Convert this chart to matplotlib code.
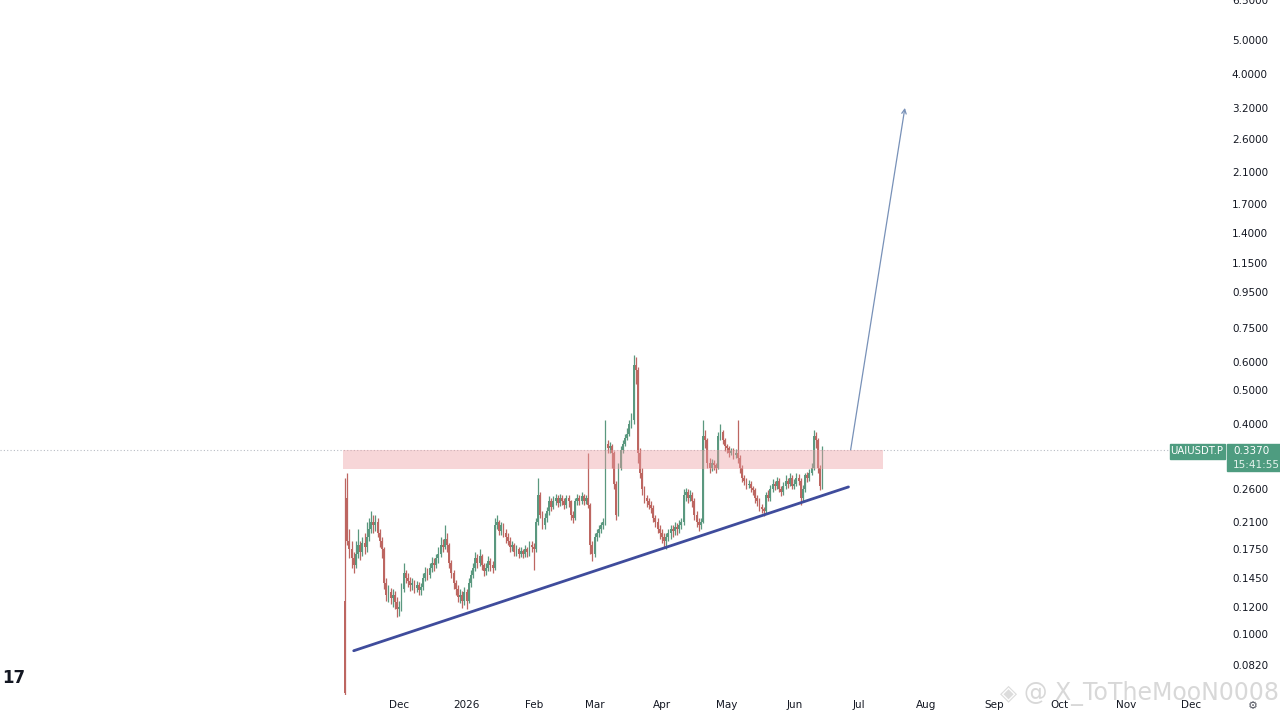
import numpy as np
import pandas as pd
import matplotlib.pyplot as plt
import matplotlib.dates as mdates
from matplotlib.patches import Rectangle
from matplotlib.ticker import FixedLocator, NullLocator

# daily candles, first one listed on 2025-11-06
START = '2025-11-06'
FIRST_OPENS = [0.125, 0.245]
CLOSES = [
    0.068, 0.185, 0.175, 0.165, 0.158, 0.17, 0.18, 0.172, 0.182, 0.178,
    0.19, 0.20, 0.21, 0.205, 0.21, 0.195, 0.185, 0.175, 0.14, 0.13,
    0.132, 0.127, 0.13, 0.124, 0.118, 0.12, 0.135, 0.15, 0.145, 0.142,
    0.138, 0.14, 0.136, 0.138, 0.134, 0.137, 0.145, 0.15, 0.148, 0.155,
    0.16, 0.158, 0.165, 0.17, 0.18, 0.178, 0.188, 0.18, 0.16, 0.15,
    0.14, 0.135, 0.128, 0.13, 0.125, 0.132, 0.125, 0.14, 0.148, 0.155,
    0.165, 0.16, 0.168, 0.158, 0.152, 0.155, 0.162, 0.158, 0.155, 0.205,
    0.21, 0.198, 0.205, 0.195, 0.19, 0.185, 0.178, 0.18, 0.172, 0.175,
    0.17, 0.173, 0.17, 0.175, 0.172, 0.18, 0.178, 0.175, 0.21, 0.25,
    0.22, 0.205, 0.215, 0.225, 0.24, 0.232, 0.24, 0.245, 0.238, 0.245,
    0.24, 0.235, 0.245, 0.24, 0.22, 0.215, 0.24, 0.245, 0.24, 0.248,
    0.24, 0.245, 0.235, 0.18, 0.17, 0.19, 0.195, 0.20, 0.205, 0.21,
    0.35, 0.34, 0.345, 0.33, 0.27, 0.22, 0.30, 0.337, 0.35, 0.365,
    0.375, 0.40, 0.41, 0.59, 0.57, 0.33, 0.29, 0.26, 0.245, 0.24,
    0.235, 0.23, 0.215, 0.21, 0.20, 0.195, 0.19, 0.185, 0.19, 0.195,
    0.20, 0.198, 0.203, 0.20, 0.205, 0.21, 0.25, 0.255, 0.245, 0.25,
    0.24, 0.22, 0.21, 0.205, 0.21, 0.37, 0.36, 0.31, 0.30, 0.31,
    0.305, 0.30, 0.37, 0.38, 0.36, 0.345, 0.34, 0.33, 0.335, 0.325,
    0.33, 0.32, 0.30, 0.28, 0.275, 0.268, 0.27, 0.262, 0.258, 0.245,
    0.24, 0.232, 0.228, 0.225, 0.25, 0.245, 0.26, 0.27, 0.265, 0.275,
    0.26, 0.255, 0.265, 0.275, 0.27, 0.28, 0.265, 0.27, 0.28, 0.275,
    0.245, 0.26, 0.285, 0.28, 0.29, 0.30, 0.37, 0.36, 0.30, 0.265,
    0.337,
]
HIGHS = [
    0.28, 0.29, 0.20, 0.185, 0.172, 0.185, 0.20, 0.185, 0.19, 0.195,
    0.21, 0.215, 0.225, 0.22, 0.22, 0.215, 0.20, 0.19, 0.178, 0.145,
    0.138, 0.136, 0.135, 0.133, 0.128, 0.125, 0.14, 0.16, 0.153, 0.15,
    0.146, 0.145, 0.143, 0.142, 0.141, 0.14, 0.15, 0.156, 0.155, 0.16,
    0.166, 0.165, 0.17, 0.178, 0.19, 0.188, 0.205, 0.195, 0.183, 0.163,
    0.153, 0.143, 0.138, 0.135, 0.133, 0.137, 0.135, 0.145, 0.153, 0.16,
    0.172, 0.17, 0.175, 0.17, 0.16, 0.16, 0.168, 0.165, 0.162, 0.215,
    0.22, 0.213, 0.21, 0.208, 0.20, 0.195, 0.19, 0.185, 0.183, 0.18,
    0.178, 0.178, 0.176, 0.18, 0.178, 0.185, 0.185, 0.182, 0.215, 0.28,
    0.255, 0.225, 0.222, 0.232, 0.248, 0.245, 0.248, 0.252, 0.25, 0.252,
    0.25, 0.245, 0.25, 0.25, 0.243, 0.225, 0.245, 0.252, 0.25, 0.255,
    0.252, 0.25, 0.33, 0.238, 0.185, 0.195, 0.20, 0.205, 0.21, 0.215,
    0.41, 0.36, 0.355, 0.35, 0.335, 0.275, 0.31, 0.345, 0.36, 0.375,
    0.39, 0.41, 0.43, 0.63, 0.62, 0.58, 0.34, 0.30, 0.265, 0.25,
    0.245, 0.24, 0.235, 0.22, 0.215, 0.205, 0.20, 0.195, 0.195, 0.20,
    0.205, 0.206, 0.21, 0.208, 0.212, 0.215, 0.26, 0.262, 0.26, 0.258,
    0.255, 0.245, 0.225, 0.215, 0.215, 0.41, 0.385, 0.365, 0.32, 0.318,
    0.315, 0.31, 0.38, 0.40, 0.385, 0.365, 0.35, 0.345, 0.342, 0.34,
    0.338, 0.41, 0.325, 0.305, 0.285, 0.28, 0.276, 0.274, 0.266, 0.262,
    0.25, 0.245, 0.236, 0.232, 0.255, 0.258, 0.268, 0.278, 0.275, 0.282,
    0.28, 0.265, 0.272, 0.285, 0.28, 0.29, 0.285, 0.278, 0.29, 0.288,
    0.28, 0.268, 0.29, 0.292, 0.298, 0.31, 0.385, 0.38, 0.365, 0.305,
    0.345,
]
LOWS = [
    0.066, 0.18, 0.165, 0.155, 0.15, 0.155, 0.165, 0.163, 0.168, 0.17,
    0.172, 0.185, 0.195, 0.195, 0.198, 0.19, 0.178, 0.165, 0.135, 0.125,
    0.124, 0.122, 0.12, 0.118, 0.112, 0.113, 0.117, 0.132, 0.14, 0.137,
    0.133, 0.134, 0.131, 0.132, 0.13, 0.13, 0.134, 0.142, 0.143, 0.145,
    0.151, 0.152, 0.155, 0.16, 0.166, 0.172, 0.175, 0.172, 0.155, 0.145,
    0.135, 0.13, 0.124, 0.123, 0.119, 0.121, 0.118, 0.123, 0.137, 0.145,
    0.152, 0.155, 0.157, 0.153, 0.147, 0.148, 0.152, 0.152, 0.15, 0.153,
    0.20, 0.192, 0.193, 0.19, 0.183, 0.18, 0.172, 0.173, 0.168, 0.168,
    0.165, 0.166, 0.165, 0.166, 0.167, 0.168, 0.172, 0.153, 0.172, 0.205,
    0.215, 0.20, 0.20, 0.21, 0.22, 0.225, 0.228, 0.235, 0.232, 0.233,
    0.234, 0.228, 0.23, 0.232, 0.212, 0.208, 0.212, 0.235, 0.234, 0.236,
    0.234, 0.236, 0.23, 0.17, 0.162, 0.167, 0.185, 0.19, 0.195, 0.20,
    0.205, 0.33, 0.33, 0.30, 0.26, 0.212, 0.218, 0.295, 0.33, 0.345,
    0.36, 0.37, 0.39, 0.40, 0.52, 0.31, 0.28, 0.25, 0.238, 0.232,
    0.228, 0.222, 0.21, 0.203, 0.195, 0.188, 0.183, 0.178, 0.176, 0.185,
    0.188, 0.19, 0.192, 0.193, 0.195, 0.20, 0.205, 0.24, 0.238, 0.24,
    0.232, 0.213, 0.203, 0.198, 0.20, 0.208, 0.34, 0.30, 0.29, 0.293,
    0.296, 0.29, 0.297, 0.36, 0.35, 0.335, 0.33, 0.322, 0.325, 0.318,
    0.32, 0.31, 0.29, 0.272, 0.268, 0.26, 0.262, 0.255, 0.25, 0.238,
    0.233, 0.226, 0.222, 0.218, 0.222, 0.24, 0.24, 0.255, 0.258, 0.26,
    0.255, 0.248, 0.25, 0.26, 0.262, 0.265, 0.26, 0.26, 0.265, 0.268,
    0.235, 0.24, 0.255, 0.272, 0.275, 0.285, 0.295, 0.34, 0.29, 0.258,
    0.26,
]

LAST_PRICE = 0.337
ZONE_LOW, ZONE_HIGH = 0.298, 0.336
ZONE_START, ZONE_END = '2025-11-05', '2026-07-12'
TREND_DATES = ['2025-11-10', '2026-06-26']
TREND_PRICES = [0.0898, 0.264]
ARROW_DATES = ['2026-06-27', '2026-07-22']
ARROW_PRICES = [0.337, 3.2]
PRICE_TICKS = [6.5, 5.0, 4.0, 3.2, 2.6, 2.1, 1.7, 1.4, 1.15, 0.95, 0.75, 0.6,
               0.5, 0.4, 0.26, 0.21, 0.175, 0.145, 0.12, 0.1, 0.082, 0.067]
MONTHS = ['2025-12-01', '2026-01-01', '2026-02-01', '2026-03-01', '2026-04-01',
          '2026-05-01', '2026-06-01', '2026-07-01', '2026-08-01', '2026-09-01',
          '2026-10-01', '2026-11-01', '2026-12-01']
MONTH_LABELS = ['Dec', '2026', 'Feb', 'Mar', 'Apr', 'May', 'Jun', 'Jul', 'Aug',
                'Sep', 'Oct', 'Nov', 'Dec']

UP = '#5a987f'
DOWN = '#bd6661'
TEXT = '#131722'

closes = np.array(CLOSES)
highs = np.array(HIGHS)
lows = np.array(LOWS)
opens = np.array(FIRST_OPENS + CLOSES[1:-1])
dates = mdates.date2num(pd.date_range(START, periods=len(closes), freq='D'))
d2n = lambda s: mdates.date2num(pd.Timestamp(s))

fig = plt.figure(figsize=(12.8, 7.2), dpi=100)
ax = fig.add_axes([0.0, 0.035, 0.957, 0.965])
ax.set_yscale('log')
ax.set_ylim(0.0672, 6.51)
ax.set_xlim(d2n('2025-11-06') - 159, d2n('2025-11-06') + 405.5)

up = closes >= opens
colors = np.where(up, UP, DOWN)
ax.vlines(dates, lows, highs, colors=colors, lw=0.9, zorder=2)
bottoms = np.minimum(opens, closes)
heights = np.maximum(np.abs(closes - opens), 0.002)
ax.bar(dates, heights, bottom=bottoms, width=0.85, color=colors,
       linewidth=0, zorder=3)

# resistance zone
ax.add_patch(Rectangle((d2n(ZONE_START), ZONE_LOW), d2n(ZONE_END) - d2n(ZONE_START),
                       ZONE_HIGH - ZONE_LOW, facecolor='#ec9ea3', alpha=0.42,
                       edgecolor='none', zorder=4))

# last price dotted line
ax.axhline(LAST_PRICE, color='#b8bcc4', lw=0.8, ls=(0, (1, 2)), zorder=1)

# rising trend line
ax.plot([d2n(d) for d in TREND_DATES], TREND_PRICES, color='#3f4c9c', lw=2.0,
        solid_capstyle='round', zorder=5)

# projection arrow
ax.annotate('', xy=(d2n(ARROW_DATES[1]), ARROW_PRICES[1]),
            xytext=(d2n(ARROW_DATES[0]), ARROW_PRICES[0]),
            arrowprops=dict(arrowstyle='->', color='#7891b8', lw=0.9,
                            shrinkA=0, shrinkB=0, mutation_scale=8), zorder=5)

ax.yaxis.tick_right()
ax.yaxis.set_major_locator(FixedLocator(PRICE_TICKS))
ax.yaxis.set_minor_locator(NullLocator())
ax.set_yticklabels([f'{p:.4f}' for p in PRICE_TICKS])
ax.set_xticks([d2n(m) for m in MONTHS])
ax.set_xticklabels(MONTH_LABELS)
ax.tick_params(axis='y', length=0, pad=5, labelsize=7.5, labelcolor=TEXT)
ax.tick_params(axis='x', length=0, pad=4, labelsize=7.5, labelcolor=TEXT)
for lab in ax.get_yticklabels():
    lab.set_horizontalalignment('left')
for s in ax.spines.values():
    s.set_visible(False)

# price scale labels
def fx(x):
    return x / 1280

def fy(y):
    return (720 - y) / 720

fig.patches.append(Rectangle((fx(1170), fy(459)), 55 / 1280, 15 / 720,
                             transform=fig.transFigure, color='#4e9c80'))
fig.patches.append(Rectangle((fx(1227), fy(471)), 53 / 1280, 27 / 720,
                             transform=fig.transFigure, color='#4e9c80'))
fig.text(fx(1197), fy(451.5), 'UAIUSDT.P', color='white', fontsize=7.3,
         ha='center', va='center')
fig.text(fx(1233), fy(451.5), '0.3370', color='white', fontsize=7.5,
         ha='left', va='center')
fig.text(fx(1233), fy(464.5), '15:41:55', color='#e4f2ec', fontsize=7.5,
         ha='left', va='center')

# logo and watermark
fig.text(fx(2), fy(678), '17', fontsize=12, fontweight='heavy',
         color='#131722', ha='left', va='center')
fig.text(fx(1253), fy(706), '\u2699', fontsize=8, color='#50535e',
         ha='center', va='center')
fig.text(fx(1008), fy(693), '\u25c8', fontsize=16, color='#d4d4d4',
         ha='center', va='center', alpha=0.8)
fig.text(fx(1024), fy(693), '@ X_ToTheMooN0008', fontsize=17, color='#c8c8c8',
         ha='left', va='center', alpha=0.7)

fig.savefig('out.png', dpi=100, facecolor='white')
